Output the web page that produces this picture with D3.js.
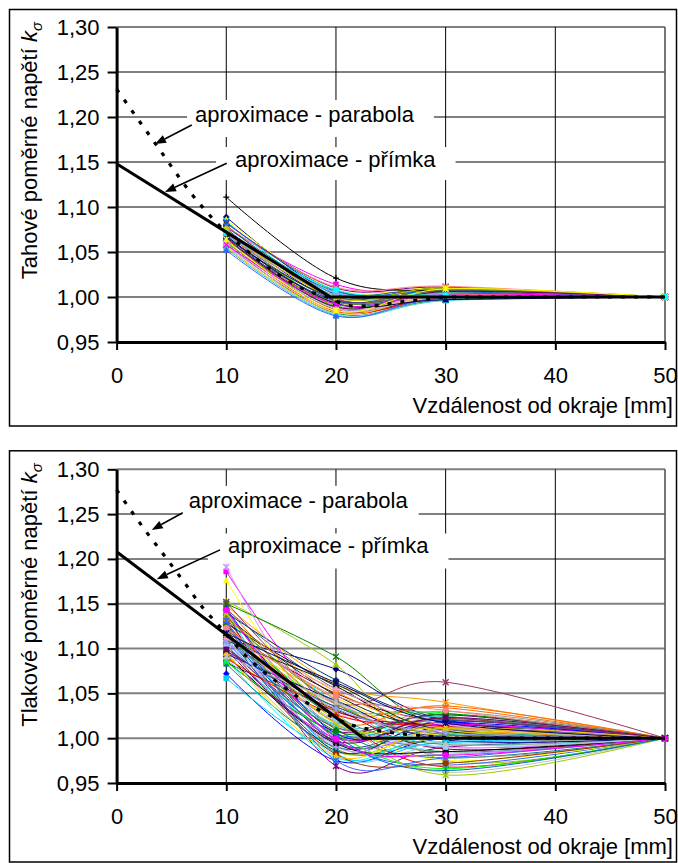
<!DOCTYPE html>
<html><head><meta charset="utf-8">
<script src="https://cdn.jsdelivr.net/npm/d3@7"></script>
<style>
body{margin:0;background:#fff}
svg{display:block}
text{font-family:"Liberation Sans",Arial,sans-serif;fill:#000}
</style>
</head><body>
<svg id="chart" width="678" height="863"></svg>
<script>
// ---------- data ----------
const xTickValues = [0, 10, 20, 30, 40, 50];
const yTickValues = [0.95, 1.00, 1.05, 1.10, 1.15, 1.20, 1.25, 1.30];
const yTickLabels = ["0,95", "1,00", "1,05", "1,10", "1,15", "1,20", "1,25", "1,30"];
const measureX = [10, 20, 30, 50];
const xTitle = "Vzdálenost od okraje [mm]";
const topTitle = "Tahové poměrné napětí ";
const bottomTitle = "Tlakové poměrné napětí ";
const labelParabola = "aproximace - parabola";
const labelLine = "aproximace - přímka";

// tensile (top) measured series: value at 10, 20, 30, 50 mm
const top10 = [1.089,1.077,1.086,1.084,1.082,1.080,1.078,1.076,1.074,1.073,1.072,1.071,1.070,1.069,1.068,1.067,1.066,1.065,1.064,1.063,1.111,1.062,1.061,1.060,1.059,1.058,1.057,1.056,1.055,1.054,1.052,1.079,1.083,1.070,1.066,1.062,1.075,1.068,1.058,1.064,1.071];
const top20 = [1.003,1.014,1.008,1.001,1.010,0.998,1.006,0.996,1.004,0.993,1.000,0.990,0.997,1.002,0.988,0.995,0.999,0.986,0.992,0.996,1.021,0.984,0.990,0.994,0.982,0.988,0.985,0.981,0.983,0.980,0.979,1.011,1.007,1.005,0.989,0.987,0.999,0.993,0.992,0.985,1.008];
const top30 = [1.008,1.004,1.010,1.005,1.011,1.003,1.009,1.002,1.007,1.000,1.006,0.999,1.004,1.009,0.998,1.003,1.010,0.997,1.002,1.007,1.006,0.999,1.005,1.008,0.997,1.001,1.004,0.998,1.002,0.996,0.999,1.012,1.006,1.001,1.006,1.000,1.010,0.997,1.003,1.009,1.002];
const top50 = [1.000,1.000,1.000,1.000,1.000,1.000,1.000,1.000,1.000,1.000,1.000,1.000,1.000,1.000,1.000,1.000,1.000,1.000,1.000,1.000,1.000,1.000,1.000,1.000,1.000,1.000,1.000,1.000,1.000,1.000,1.000,1.000,1.000,1.000,1.000,1.000,1.000,1.000,1.000,1.000,1.000];

// compressive (bottom) measured series
const bot10 = [1.110,1.186,1.176,1.132,1.140,1.120,1.118,1.072,1.067,1.153,1.148,1.146,1.144,1.142,1.140,1.138,1.136,1.134,1.152,1.130,1.128,1.126,1.124,1.122,1.150,1.191,1.116,1.114,1.112,1.110,1.108,1.106,1.104,1.102,1.100,1.098,1.096,1.094,1.092,1.090,1.088,1.086,1.084,1.083,1.145,1.141,1.137,1.133,1.129,1.125,1.121,1.117,1.113,1.109,1.105,1.101,1.097,1.093,1.089,1.085,1.135,1.127,1.119,1.111,1.103,1.095,1.087,1.131,1.123,1.115,1.107,1.099,1.091,1.139,1.117,1.143];
const bot20 = [1.077,1.025,1.010,1.040,0.969,1.050,1.010,0.975,0.985,1.082,1.060,1.030,1.055,1.012,1.065,1.020,1.048,1.002,1.040,0.995,1.058,1.025,1.035,0.988,1.091,1.000,1.028,0.980,1.045,1.015,0.998,1.038,1.005,0.992,1.030,1.018,0.985,1.042,1.000,1.022,0.978,1.008,1.032,0.990,1.005,0.983,1.028,1.052,1.018,0.996,1.043,0.986,1.024,1.060,0.982,1.012,1.035,0.994,1.026,1.004,1.038,1.008,0.990,1.055,1.020,0.980,1.014,0.975,1.047,1.002,1.033,0.997,1.040,1.016,1.062,0.999];
const bot30 = [1.020,0.990,1.005,0.995,0.990,1.018,0.978,1.000,0.995,0.975,1.040,1.034,1.025,1.030,1.020,0.985,1.010,1.022,1.0625,1.015,1.005,0.968,1.028,1.000,1.012,0.985,1.012,0.992,1.002,1.024,0.970,1.008,1.020,0.982,1.014,0.962,1.006,0.998,1.016,0.975,1.004,1.026,0.988,1.010,1.018,0.996,0.959,1.012,1.036,1.003,0.980,1.019,0.993,1.008,0.972,1.021,1.001,0.985,1.013,0.966,1.004,1.027,1.009,1.015,0.990,1.011,1.000,0.978,1.031,0.964,1.006,1.023,0.994,1.011,1.017,0.981];
const bot50 = [1.000,1.000,1.000,1.000,1.000,1.000,1.000,1.000,1.000,1.000,1.000,1.000,1.000,1.000,1.000,1.000,1.000,1.000,1.000,1.000,1.000,1.000,1.000,1.000,1.000,1.000,1.000,1.000,1.000,1.000,1.000,1.000,1.000,1.000,1.000,1.000,1.000,1.000,1.000,1.000,1.000,1.000,1.000,1.000,1.000,1.000,1.000,1.000,1.000,1.000,1.000,1.000,1.000,1.000,1.000,1.000,1.000,1.000,1.000,1.000,1.000,1.000,1.000,1.000,1.000,1.000,1.000,1.000,1.000,1.000,1.000,1.000,1.000,1.000,1.000,1.000];

// approximations
const topLineX = [0, 19.5, 50];
const topLineY = [1.148, 1.000, 1.000];
const topParabX = [0, 3.5, 7, 9, 11.25, 14.9, 17.4, 19.2, 21.5, 23.1, 26.1, 27.7, 30, 50];
const topParabY = [1.231, 1.171, 1.112, 1.084, 1.058, 1.024, 1.007, 1.000, 0.990, 0.990, 0.995, 0.997, 1.000, 1.000];
const botLineX = [0, 22.5, 50];
const botLineY = [1.208, 1.000, 1.000];
const botParabX = [0, 2.6, 4.4, 6.1, 7.9, 9, 12.2, 14.6, 18.1, 21.6, 24.3, 27.7, 31.8, 50];
const botParabY = [1.277, 1.232, 1.203, 1.175, 1.145, 1.130, 1.087, 1.063, 1.034, 1.014, 1.0075, 1.003, 1.000, 1.000];

// ---------- styles ----------
const palette = ["#000080","#FF00FF","#FFFF00","#00FFFF","#800080","#800000","#008080","#0000FF","#00CCFF","#99CC00","#FF9900","#FF6600","#666699","#969696","#003366","#339966","#003300","#993300","#993366","#333399","#000000","#FF0000","#00FF00","#808000","#008000","#CC99FF","#FF99CC","#99CCFF","#FFCC00","#33CCCC","#3366FF","#FF8080","#0066CC","#9999FF","#660066","#C0C0C0","#CCCC00"];
const markerTypes = ["diamond","square","triangle","x","star","circle","plus"];
const FONT = 22;

function markerPath(t, s) {
  switch (t) {
    case "diamond": return `M0,${-s}L${s},0L0,${s}L${-s},0Z`;
    case "square": { const q = s * 0.85; return `M${-q},${-q}H${q}V${q}H${-q}Z`; }
    case "triangle": return `M0,${-s}L${s},${s * 0.8}L${-s},${s * 0.8}Z`;
    case "x": return `M${-s},${-s}L${s},${s}M${s},${-s}L${-s},${s}`;
    case "star": return `M${-s},${-s}L${s},${s}M${s},${-s}L${-s},${s}M0,${-s}V${s}`;
    case "circle": return `M${s},0A${s},${s},0,1,1,${-s},0A${s},${s},0,1,1,${s},0Z`;
    default: return `M${-s},0H${s}M0,${-s}V${s}`;
  }
}
const filledMarkers = new Set(["diamond","square","triangle","circle"]);

const svg = d3.select("#chart");

function panel(cfg) {
  const g = svg.append("g");
  const x = d3.scaleLinear().domain([0, 50]).range([116.6, 665]);
  const y = d3.scaleLinear().domain([0.95, 1.30]).range([cfg.yBottom, cfg.yTop]);

  // chart frame
  g.append("rect").attr("x", 9.5).attr("y", cfg.frameTop).attr("width", 667)
    .attr("height", cfg.frameBottom - cfg.frameTop)
    .attr("fill", "#fff").attr("stroke", "#000").attr("stroke-width", 1.5);

  // horizontal gridlines
  g.append("g").selectAll("line").data(yTickValues.slice(1)).join("line")
    .attr("x1", x(0)).attr("x2", x(50)).attr("y1", d => y(d)).attr("y2", d => y(d))
    .attr("stroke", "#808080").attr("stroke-width", 2);
  // vertical gridlines
  g.append("g").selectAll("line").data(xTickValues.slice(1)).join("line")
    .attr("x1", d => x(d)).attr("x2", d => x(d)).attr("y1", y(1.30)).attr("y2", y(0.95))
    .attr("stroke", d => d === 50 ? "#555" : "#000").attr("stroke-width", d => d === 50 ? 1.6 : 1);

  // annotation labels with white boxes
  cfg.labels.forEach(l => {
    const tx = x(l.x), ty = y(l.y);
    const t = g.append("text").attr("x", tx).attr("y", ty).attr("font-size", FONT).text(l.text);
    const w = t.node().getComputedTextLength();
    g.insert("rect", () => t.node())
      .attr("x", tx - l.padL).attr("y", ty - l.up).attr("width", w + l.padL + l.padR)
      .attr("height", l.up + l.down).attr("fill", "#fff");
  });
  // arrows
  cfg.arrows.forEach(a => {
    const x1 = x(a.x1), y1 = y(a.y1), x2 = x(a.x2), y2 = y(a.y2);
    const ang = Math.atan2(y2 - y1, x2 - x1);
    const L = 11, W = 4.2;
    const bx = x2 - L * Math.cos(ang), by = y2 - L * Math.sin(ang);
    g.append("line").attr("x1", x1).attr("y1", y1).attr("x2", bx).attr("y2", by)
      .attr("stroke", "#000").attr("stroke-width", 1.6);
    g.append("path")
      .attr("d", `M${x2},${y2}L${bx - W * Math.sin(ang)},${by + W * Math.cos(ang)}L${bx + W * Math.sin(ang)},${by - W * Math.cos(ang)}Z`)
      .attr("fill", "#000");
  });

  // measured series
  const smooth = d3.line().x(d => x(d[0])).y(d => y(d[1])).curve(d3.curveCardinal.tension(0));
  const n = cfg.v10.length;
  const sg = g.append("g");
  for (let i = 0; i < n; i++) {
    const pts = [[measureX[0], cfg.v10[i]], [measureX[1], cfg.v20[i]], [measureX[2], cfg.v30[i]], [measureX[3], cfg.v50[i]]];
    const col = palette[i % palette.length];
    sg.append("path").attr("d", smooth(pts)).attr("fill", "none")
      .attr("stroke", col).attr("stroke-width", 1);
    const mt = markerTypes[i % markerTypes.length];
    const filled = filledMarkers.has(mt);
    sg.append("g").selectAll("path").data(pts).join("path")
      .attr("transform", d => `translate(${x(d[0])},${y(d[1])})`)
      .attr("d", markerPath(mt, 3))
      .attr("fill", filled ? col : "none").attr("stroke", col).attr("stroke-width", filled ? 0.6 : 1.3);
  }

  // approximations
  const straight = d3.line().x(d => x(d[0])).y(d => y(d[1]));
  g.append("path").attr("d", straight(cfg.lineX.map((v, i) => [v, cfg.lineY[i]])))
    .attr("fill", "none").attr("stroke", "#000").attr("stroke-width", 3);
  const curved = d3.line().x(d => x(d[0])).y(d => y(d[1])).curve(d3.curveMonotoneX);
  g.append("path").attr("d", curved(cfg.parabX.map((v, i) => [v, cfg.parabY[i]])))
    .attr("fill", "none").attr("stroke", "#000").attr("stroke-width", 3.2)
    .attr("stroke-dasharray", "4 9");

  // axes
  const ya = g.append("g").attr("transform", `translate(${x(0)},0)`)
    .call(d3.axisLeft(y).tickValues(yTickValues).tickFormat((d, i) => yTickLabels[i])
      .tickSize(9).tickSizeOuter(0).tickPadding(8));
  const xa = g.append("g").attr("transform", `translate(0,${y(0.95)})`)
    .call(d3.axisBottom(x).tickValues(xTickValues).tickSize(8).tickSizeOuter(0).tickPadding(17));
  [ya, xa].forEach(a => {
    a.attr("font-family", null).attr("font-size", null);
    a.select(".domain").attr("stroke", "#000").attr("stroke-width", 3);
    a.selectAll(".tick line").attr("stroke", "#000").attr("stroke-width", 2);
    a.selectAll(".tick text").attr("font-size", FONT).attr("fill", "#000");
  });

  // axis titles
  g.append("text").attr("x", 673).attr("y", y(0.95) + 71).attr("text-anchor", "end")
    .attr("font-size", FONT).text(xTitle);
  const yt = g.append("text").attr("transform", `translate(37,${cfg.frameTop + 12.5}) rotate(-90)`)
    .attr("text-anchor", "end").attr("font-size", FONT);
  yt.append("tspan").text(cfg.title);
  yt.append("tspan").attr("font-style", "italic").text("k");
  yt.append("tspan").attr("font-style", "italic").attr("font-size", 15).attr("dy", 5).text("σ");
}

panel({
  frameTop: 9.5, frameBottom: 426, yTop: 27, yBottom: 342,
  v10: top10, v20: top20, v30: top30, v50: top50,
  lineX: topLineX, lineY: topLineY, parabX: topParabX, parabY: topParabY,
  title: topTitle,
  labels: [
    { text: labelParabola, x: 7.15, y: 1.1939, padL: 8, padR: 20, up: 22.5, down: 14.5 },
    { text: labelLine, x: 10.8, y: 1.1447, padL: 19, padR: 20, up: 19.7, down: 13.3 }
  ],
  arrows: [
    { x1: 6.85, y1: 1.1911, x2: 3.5, y2: 1.170 },
    { x1: 10.04, y1: 1.1486, x2: 4.41, y2: 1.1167 }
  ]
});
panel({
  frameTop: 450.8, frameBottom: 862, yTop: 469.3, yBottom: 783,
  v10: bot10, v20: bot20, v30: bot30, v50: bot50,
  lineX: botLineX, lineY: botLineY, parabX: botParabX, parabY: botParabY,
  title: bottomTitle,
  labels: [
    { text: labelParabola, x: 6.58, y: 1.2564, padL: 7, padR: 11, up: 22.5, down: 19.5 },
    { text: labelLine, x: 10.15, y: 1.2066, padL: 20, padR: 20, up: 19.5, down: 15.5 }
  ],
  arrows: [
    { x1: 6.03, y1: 1.2516, x2: 3.2, y2: 1.2324 },
    { x1: 9.43, y1: 1.2101, x2: 3.66, y2: 1.1774 }
  ]
});
</script>
</body></html>
